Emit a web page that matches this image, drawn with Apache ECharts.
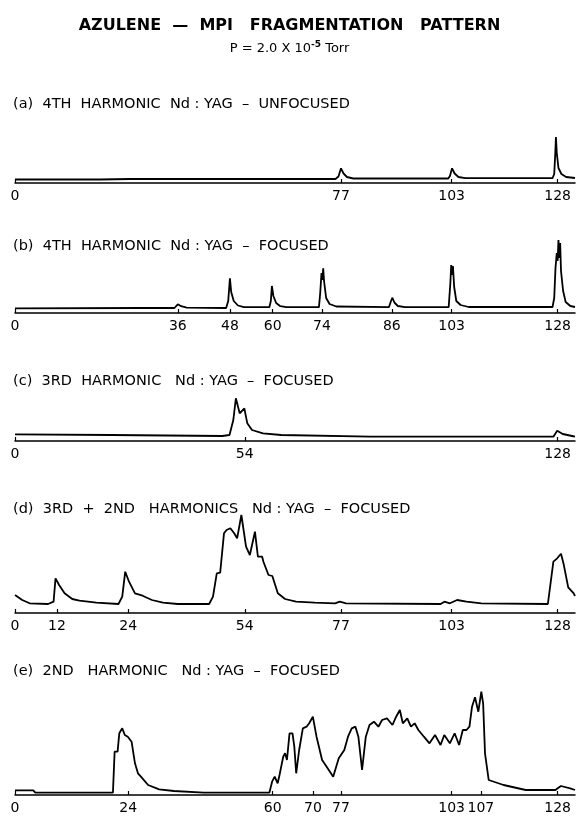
<!DOCTYPE html>
<html>
<head>
<meta charset="utf-8">
<script src="https://cdn.jsdelivr.net/npm/echarts@6/dist/echarts.min.js"></script>
<style>
html,body{margin:0;padding:0;background:#fff;}
#chart{width:579px;height:816px;}
</style>
</head>
<body>
<div id="chart"></div>
<script>
const FONT = 'DejaVu Sans';

const mainTitle = 'AZULENE  —  MPI   FRAGMENTATION   PATTERN';
const panelTitles = [
  '(a)  4TH  HARMONIC  Nd : YAG  –  UNFOCUSED',
  '(b)  4TH  HARMONIC  Nd : YAG  –  FOCUSED',
  '(c)  3RD  HARMONIC   Nd : YAG  –  FOCUSED',
  '(d)  3RD  +  2ND   HARMONICS   Nd : YAG  –  FOCUSED',
  '(e)  2ND   HARMONIC   Nd : YAG  –  FOCUSED'
];

// mass labels and where they sit on the (slightly non-linear) recorded trace scale
const tickMass = [0, 12, 24, 36, 48, 54, 60, 70, 74, 77, 86, 103, 107, 128];
const tickPos  = [0, 9.9, 26.7, 38.4, 50.7, 54.2, 60.8, 70.3, 72.4, 76.9, 88.9, 103, 109.9, 128];

const ticksA = [0, 77, 103, 128];
const ticksB = [0, 36, 48, 60, 74, 86, 103, 128];
const ticksC = [0, 54, 128];
const ticksD = [0, 12, 24, 54, 77, 103, 128];
const ticksE = [0, 24, 60, 70, 77, 103, 107, 128];

// traces: [trace position, ion signal (a.u.)]
const traceA = [[0,3.5],[20,3.5],[27,4],[60,4],[75.6,4],[76.3,6.5],[76.9,14.7],[77.5,9.5],[78.3,6],[79.8,4.5],
  [102.2,4.5],[102.6,7],[103.1,14.7],[103.7,9.5],[104.6,6],[106.2,4.8],[126.8,4.8],[127.2,9],[127.45,30],[127.6,46],
  [127.8,30],[128.2,15],[128.9,9],[130,6],[132.1,5]];

const traceB = [[0,4.7],[30,5],[37.6,5],[38.4,8.7],[39.2,6.8],[40.5,5.3],[49.8,5],[50.3,12],[50.7,34.7],[51.0,21],
  [51.6,12],[52.6,7.5],[54,5.8],[60.0,5.8],[60.35,12],[60.6,27],[60.95,17],[61.6,10],[62.6,6.8],[64,5.8],[71.7,5.8],
  [72.0,20],[72.3,40],[72.5,33],[72.7,44.7],[72.9,32],[73.4,15],[74.2,9],[75.8,6.5],[88.2,5.8],[88.7,12],[89.0,15.3],
  [89.5,10.5],[90.3,7],[92,5.8],[102.3,5.8],[102.7,30],[102.9,48],[103.1,38],[103.3,47],[103.6,26],[104.1,12],
  [105.1,8],[107,6],[126.8,6],[127.2,15],[127.5,45],[127.8,60],[128.0,52],[128.2,73],[128.4,55],[128.6,70],
  [128.8,42],[129.3,22],[129.9,11],[131,7],[132.1,6]];

const traceC = [[0,6.7],[22.7,6],[48.9,5],[50.6,6],[51.5,21],[52.1,42.7],[53.0,27.7],[54.1,32.7],[54.8,17.7],
  [55.9,11],[58.5,7.7],[62.8,6],[83.8,4.3],[127.0,4.3],[127.9,10.3],[129.2,7],[131.4,5],[132.1,4.3]];

const traceD = [[0,18],[1.7,13],[3.45,9.7],[7.8,9],[9.1,11.3],[9.56,34.7],[10.4,28],[11.7,19.7],[13.5,14],
  [15.2,12.3],[19.2,10.3],[24.4,9],[25.3,16.3],[26.0,41.3],[26.9,31.3],[28.3,19.7],[30.1,17.3],[32.3,13],
  [34.9,10.3],[38.4,9],[45.8,9],[46.7,16.3],[47.6,39.7],[48.4,40.3],[49.3,79.7],[49.9,83],[50.8,84.7],
  [51.7,79.7],[52.4,74.7],[53.4,98],[54.5,66.3],[55.4,58],[56.6,81.3],[57.3,56.3],[58.3,56.3],[58.6,51.3],
  [59.8,38],[60.7,37],[62.0,19.7],[63.7,14],[66.3,11.3],[70.7,10.3],[75.5,9.7],[76.6,11.3],[78.1,9.7],
  [100.4,9],[101.3,11.3],[102.6,9.7],[104.3,13],[106.5,11.3],[110.0,9.7],[125.7,9],[127.0,51.3],[127.9,54.7],
  [128.8,59.3],[129.4,49.3],[130.5,25.7],[131.8,19.7],[132.1,17]];

const traceE = [[0,4.7],[4.3,4.7],[4.8,2.3],[23.1,2.3],[23.5,43.3],[24.2,43.3],[24.6,61.7],[25.3,66.7],[25.9,60],
  [26.6,58.3],[27.5,53.3],[28.3,31.7],[29.0,21.7],[29.7,18.3],[31.4,10],[34.0,5.7],[37.5,4],[44.5,2.3],[60.0,2.3],
  [60.2,2.3],[60.65,13.3],[61.26,18.3],[61.96,11.7],[62.4,20],[63.27,38.3],[63.71,41.7],[64.15,35],[64.76,61.7],
  [65.46,61.7],[65.89,48.3],[66.33,21.7],[67.03,45],[67.9,66.7],[68.78,68.3],[69.39,71.7],[70.26,78.3],
  [71.13,58.3],[72.44,35],[73.75,26.7],[75.06,18.3],[76.37,36.7],[77.68,45],[78.55,58.3],[79.43,66.7],
  [80.3,68.3],[81.0,58.3],[81.87,25],[82.75,58.3],[83.62,70],[84.67,73.3],[85.72,68.3],[86.59,75],[87.73,76.7],
  [89.04,70],[89.91,78.3],[90.78,85],[91.48,71.7],[92.53,76.7],[93.4,68.3],[94.28,71.7],[95.15,65],[96.46,58.3],
  [97.77,51.7],[99.08,60],[100.39,50],[101.26,60],[102.57,51.7],[103.71,61.7],[104.76,50],[105.63,65],
  [106.5,65],[107.2,68.3],[107.81,88.3],[108.51,97.7],[109.3,83.3],[110.0,103.3],[110.43,91.7],[110.87,41.7],
  [111.74,15],[115.24,10],[120.48,5],[127.47,5],[128.77,9],[130.96,6.7],[132.1,5]];

const traces = [traceA, traceB, traceC, traceD, traceE];
const ticks = [ticksA, ticksB, ticksC, ticksD, ticksE];

// layout
const axisY = [183, 313, 441, 613, 795];
const panelH = [55, 75, 45, 100, 110];
const labelY = [92, 234, 369, 497, 659];

function posOf(m) { return tickPos[tickMass.indexOf(m)]; }
function massAt(v) {
  let best = 0, d = 1e9;
  tickPos.forEach((p, i) => { const dd = Math.abs(p - v); if (dd < d) { d = dd; best = i; } });
  return String(tickMass[best]);
}

const chart = echarts.init(document.getElementById('chart'), null, {renderer: 'canvas'});

const titles = [
  {text: mainTitle, left: 'center', top: 13,
   textStyle: {fontFamily: FONT, fontSize: 16, fontWeight: 'bold', color: '#000'}},
  {text: '{a|P = 2.0 X 10}{s|-5}{a| Torr}', left: 'center', top: 35,
   textStyle: {fontWeight: 'normal', rich: {
     a: {fontFamily: FONT, fontSize: 13, fontWeight: 'normal', color: '#000'},
     s: {fontFamily: FONT, fontSize: 9, fontWeight: 'bold', color: '#000', verticalAlign: 'top', padding: [0, 0, 8, 0]}
   }}}
];
panelTitles.forEach((t, i) => {
  titles.push({text: t, left: 8, top: labelY[i],
    textStyle: {fontFamily: FONT, fontSize: 14.5, fontWeight: 'normal', color: '#000'}});
});

const grids = [], xAxes = [], yAxes = [], series = [];
for (let i = 0; i < 5; i++) {
  grids.push({left: 15, width: 560, top: axisY[i] - panelH[i], height: panelH[i]});
  const tv = ticks[i].map(posOf);
  xAxes.push({type: 'value', gridIndex: i, min: 0, max: 132.1,
    axisLine: {show: true, onZero: false, lineStyle: {color: '#000', width: 1.5}},
    axisTick: {show: true, inside: true, length: 4, customValues: tv, lineStyle: {color: '#000', width: 1.2}},
    axisLabel: {show: true, customValues: tv, formatter: v => massAt(v), fontFamily: FONT, fontSize: 14,
      color: '#000', margin: 6, hideOverlap: false},
    splitLine: {show: false}});
  yAxes.push({type: 'value', gridIndex: i, min: 0, max: panelH[i], show: false});
  series.push({type: 'line', xAxisIndex: i, yAxisIndex: i, data: traces[i], showSymbol: false,
    symbol: 'none', lineStyle: {color: '#000', width: 1.8}, animation: false, silent: true});
}

chart.setOption({
  backgroundColor: '#fff',
  animation: false,
  title: titles,
  grid: grids,
  xAxis: xAxes,
  yAxis: yAxes,
  series: series
});
</script>
</body>
</html>
